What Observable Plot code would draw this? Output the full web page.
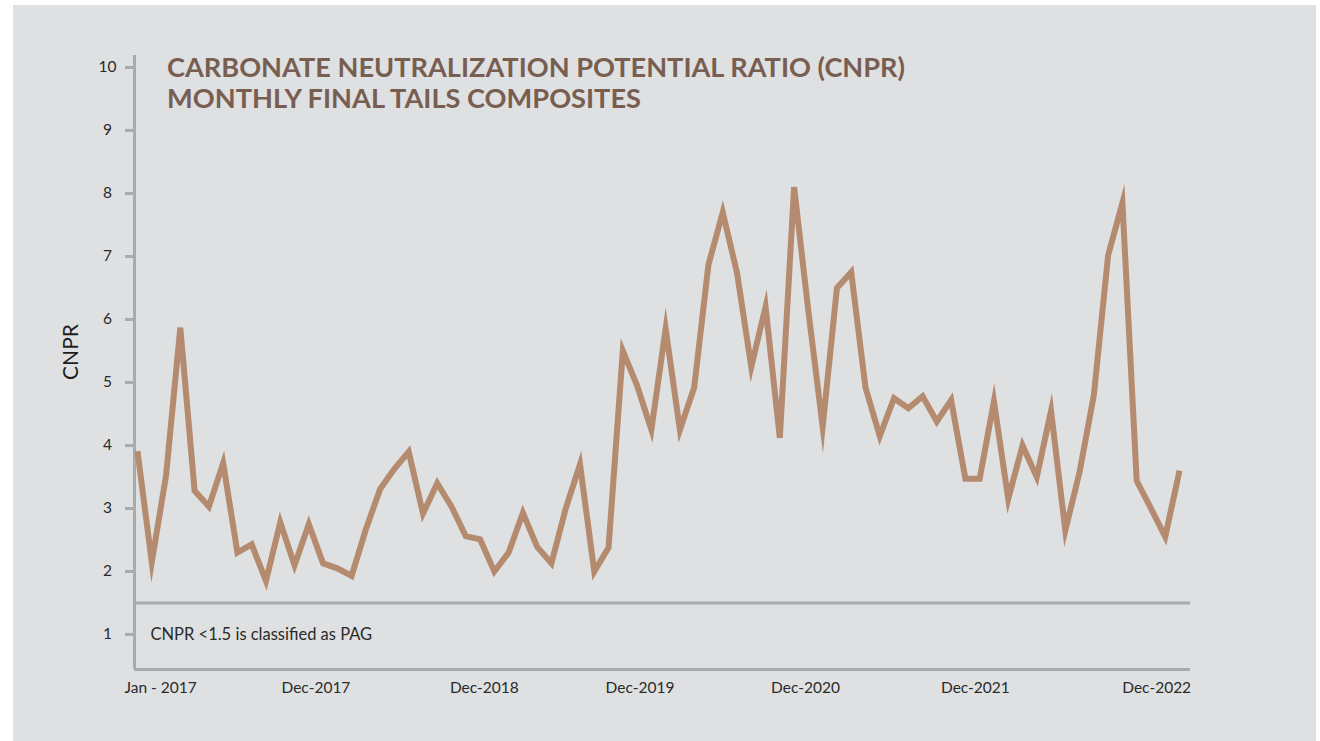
<!DOCTYPE html>
<html>
<head>
<meta charset="utf-8">
<script src="https://cdn.jsdelivr.net/npm/d3@7"></script>
<script src="https://cdn.jsdelivr.net/npm/@observablehq/plot@0.6"></script>
<style>
  html, body { margin: 0; padding: 0; background: #ffffff; overflow: hidden; width: 1320px; height: 741px; }
  #wrap { position: relative; width: 1320px; height: 741px; overflow: hidden; }
  #panel { position: absolute; left: 13px; top: 5px; width: 1303px; height: 736px; background: #dfe0e1; }
  #chart { position: absolute; left: 0; top: 0; }
  #overlay { position: absolute; left: 0; top: 0; pointer-events: none; }
</style>
</head>
<body>
<div id="wrap">
  <div id="panel"></div>
  <div id="chart"></div>
  <svg id="overlay" width="1320" height="741">
    <text x="167" y="77" font-family="Lato" font-weight="700" font-size="26" fill="#775e50" textLength="738" lengthAdjust="spacingAndGlyphs">CARBONATE NEUTRALIZATION POTENTIAL RATIO (CNPR)</text>
    <text x="167" y="108" font-family="Lato" font-weight="700" font-size="26" fill="#775e50" textLength="474" lengthAdjust="spacingAndGlyphs">MONTHLY FINAL TAILS COMPOSITES</text>
    <text transform="translate(78,352) rotate(-90)" text-anchor="middle" font-family="Lato" font-size="21" fill="#1e1e1e">CNPR</text>
  </svg>
</div>
<script>
// Monthly CNPR values, Jan 2017 onward
const cnpr = [
  3.91, 2.15, 3.52, 5.87, 3.28, 3.03, 3.72, 2.30, 2.43, 1.85,
  2.78, 2.10, 2.75, 2.13, 2.05, 1.93, 2.67, 3.31, 3.63, 3.90,
  2.92, 3.40, 3.03, 2.56, 2.51, 2.00, 2.30, 2.93, 2.39, 2.13,
  3.00, 3.70, 2.00, 2.38, 5.50, 4.95, 4.25, 5.85, 4.25, 4.92,
  6.87, 7.70, 6.74, 5.25, 6.20, 4.12, 8.10, 6.13, 4.30, 6.50,
  6.75, 4.92, 4.15, 4.75, 4.59, 4.78, 4.38, 4.72, 3.47, 3.47,
  4.70, 3.15, 4.00, 3.50, 4.55, 2.65, 3.58, 4.80, 7.02, 7.85,
  3.44, 3.00, 2.55, 3.60
];
const months = cnpr.map((_, i) => i);
const yTicks = [1, 2, 3, 4, 5, 6, 7, 8, 9, 10];
const xTickIndex = [0, 12.5, 24.3, 35.2, 46.8, 58.7, 71.4];
const xTickLabels = ["Jan - 2017", "Dec-2017", "Dec-2018", "Dec-2019", "Dec-2020", "Dec-2021", "Dec-2022"];
const pagThreshold = [1.5];
const noteText = ["CNPR <1.5 is classified as PAG"];

const rows = months.map((m, i) => ({ m, v: cnpr[i] }));
const xDomain = [-0.21, 73.77];
const yDomain = [0.444, 10.19];
const axisGray = "#a9aaac";
const textColor = "#2a2a2a";

const chart = Plot.plot({
  width: 1320,
  height: 741,
  marginLeft: 134,
  marginRight: 130,
  marginTop: 55,
  marginBottom: 72,
  style: { background: "transparent", fontFamily: "Lato, sans-serif", overflow: "visible" },
  x: { domain: xDomain, axis: null },
  y: { domain: yDomain, axis: null },
  marks: [
    Plot.axisY({
      ticks: yTicks, tickSize: 9, tickPadding: 18, textAnchor: "middle",
      stroke: axisGray, strokeWidth: 3, fill: textColor, fontSize: 15.5, label: null
    }),
    Plot.ruleX([xDomain[0]], { y1: yDomain[0], y2: yDomain[1], stroke: axisGray, strokeWidth: 3 }),
    Plot.ruleY([yDomain[0]], { stroke: axisGray, strokeWidth: 3 }),
    Plot.ruleY(pagThreshold, { stroke: axisGray, strokeWidth: 3 }),
    Plot.line(rows, {
      x: "m", y: "v", stroke: "#b48b6f", strokeWidth: 6,
      strokeLinejoin: "miter", strokeMiterlimit: 10, strokeLinecap: "butt"
    }),
    Plot.text(noteText, {
      frameAnchor: "bottom-left", dx: 16, dy: -35, textAnchor: "start",
      lineAnchor: "middle", fontSize: 16.5, fill: textColor
    }),
    Plot.text(xTickLabels.slice(0, 1), {
      x: xTickIndex.slice(0, 1), frameAnchor: "bottom", dy: 19, dx: -13,
      textAnchor: "start", lineAnchor: "middle", fontSize: 15.5, fill: textColor
    }),
    Plot.text(xTickLabels.slice(1), {
      x: xTickIndex.slice(1), frameAnchor: "bottom", dy: 19,
      textAnchor: "middle", lineAnchor: "middle", fontSize: 15.5, fill: textColor
    })
  ]
});
document.getElementById("chart").appendChild(chart);
</script>
</body>
</html>
